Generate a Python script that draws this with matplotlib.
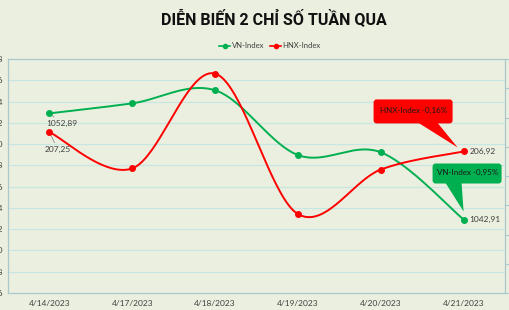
import numpy as np
import matplotlib
matplotlib.use("Agg")
import matplotlib.pyplot as plt
import matplotlib.transforms as mtransforms
from matplotlib.patches import Polygon, FancyBboxPatch
from matplotlib.lines import Line2D

# ---- data ----
dates = ["4/14/2023", "4/17/2023", "4/18/2023", "4/19/2023", "4/20/2023", "4/21/2023"]
vn_index = [1052.89, 1053.83, 1055.06, 1048.97, 1049.23, 1042.91]
hnx_index = [207.25, 206.63, 208.25, 205.85, 206.61, 206.92]
vn_ticks = [1036, 1038, 1040, 1042, 1044, 1046, 1048, 1050, 1052, 1054, 1056, 1058]
hnx_ticks = [204.5, 205.0, 205.5, 206.0, 206.5, 207.0, 207.5, 208.0, 208.5]
title = "DIỄN BIẾN 2 CHỈ SỐ TUẦN QUA"
vn_name = "VN-Index"
hnx_name = "HNX-Index"
vn_callout = "VN-Index -0,95%"
hnx_callout = "HNX-Index -0,16%"

BG = "#EBEFDF"
GRID = "#C6E6E4"
SPINE = "#A9C8CC"
GREEN = "#00B050"
RED = "#FF0000"
TXT = "#404040"
FONT = ["Lato", "DejaVu Sans"]

plt.rcParams["font.family"] = FONT


def smooth(xs, ys, n=40):
    xs = np.asarray(xs, float)
    ys = np.asarray(ys, float)
    px = np.concatenate([[xs[0]], xs, [xs[-1]]])
    py = np.concatenate([[ys[0]], ys, [ys[-1]]])
    ox, oy = [], []
    t = np.linspace(0, 1, n)
    for i in range(1, len(px) - 2):
        p0 = np.array([px[i], py[i]])
        p3 = np.array([px[i + 1], py[i + 1]])
        p1 = p0 + (np.array([px[i + 1], py[i + 1]]) - np.array([px[i - 1], py[i - 1]])) / 6
        p2 = p3 - (np.array([px[i + 2], py[i + 2]]) - np.array([px[i], py[i]])) / 6
        b = ((1 - t) ** 3)[:, None] * p0 + (3 * (1 - t) ** 2 * t)[:, None] * p1 \
            + (3 * (1 - t) * t ** 2)[:, None] * p2 + (t ** 3)[:, None] * p3
        ox.extend(b[:, 0]); oy.extend(b[:, 1])
    return np.array(ox), np.array(oy)


fig = plt.figure(figsize=(5.1, 3.1), dpi=100, facecolor=BG)
ax = fig.add_axes([8 / 510, 17 / 310, 497 / 510, 234 / 310])
ax.set_facecolor(BG)
ax2 = ax.twinx()

x = np.arange(len(dates))

# left axis (VN)
ax.set_ylim(vn_ticks[0], vn_ticks[-1])
ax.set_yticks(vn_ticks)
ax.set_yticklabels([str(v) for v in vn_ticks])
ax.tick_params(axis="y", length=0, pad=3.5, labelsize=6, labelcolor=TXT)
ax.grid(axis="y", color=GRID, linewidth=0.8)
ax.set_axisbelow(True)
ax.set_xlim(-0.5, len(dates) - 0.5)
ax.set_xticks(x)
ax.set_xticklabels(dates)
ax.tick_params(axis="x", length=0, pad=5, labelsize=6, labelcolor=TXT)

# right axis (HNX)
ax2.set_ylim(hnx_ticks[0], hnx_ticks[-1])
ax2.set_yticks(hnx_ticks)
ax2.set_yticklabels([f"{v:.1f}" for v in hnx_ticks])
ax2.tick_params(axis="y", length=4, color=SPINE, pad=10, labelsize=6, labelcolor=TXT)

for a in (ax, ax2):
    for s in a.spines.values():
        s.set_color(SPINE)
        s.set_linewidth(0.8)

# lines
sx, sy = smooth(x, vn_index)
ax.plot(sx, sy, color=GREEN, lw=1.4, zorder=3)
ax.plot(x, vn_index, "o", color=GREEN, ms=4, zorder=4)
hx, hy = smooth(x, hnx_index)
ax2.plot(hx, hy, color=RED, lw=1.4, zorder=3)
ax2.plot(x, hnx_index, "o", color=RED, ms=4, zorder=4)


def fmt(v):
    return f"{v:.2f}".replace(".", ",")

# data labels
ax.annotate(fmt(vn_index[0]), (x[0], vn_index[0]), xytext=(-3, -10), textcoords="offset pixels",
            ha="left", va="center", fontsize=6, color=TXT,
            arrowprops=dict(arrowstyle="-", color="#808080", lw=0.5, shrinkA=0, shrinkB=2))
ax2.annotate(fmt(hnx_index[0]), (x[0], hnx_index[0]), xytext=(-5, -17), textcoords="offset pixels",
             ha="left", va="center", fontsize=6, color=TXT,
             arrowprops=dict(arrowstyle="-", color="#808080", lw=0.5, shrinkA=0, shrinkB=3))
ax.annotate(fmt(vn_index[-1]), (x[-1], vn_index[-1]), xytext=(6, 0), textcoords="offset pixels",
            ha="left", va="center", fontsize=6, color=TXT)
ax2.annotate(fmt(hnx_index[-1]), (x[-1], hnx_index[-1]), xytext=(6, 0), textcoords="offset pixels",
             ha="left", va="center", fontsize=6, color=TXT)


def callout(axis, xd, yd, box, base, apex, color, text):
    trans = mtransforms.Affine2D() + mtransforms.ScaledTranslation(xd, yd, axis.transData)
    x0, x1, y0, y1 = box
    rect = FancyBboxPatch((x0, y0), x1 - x0, y1 - y0, boxstyle="round,pad=0,rounding_size=3",
                          facecolor=color, edgecolor="none", transform=trans, clip_on=False, zorder=6)
    fig.add_artist(rect)
    tri = Polygon([(base[0], y0 + 0.5), (base[1], y0 + 0.5), apex], closed=True, facecolor=color,
                  edgecolor="none", transform=trans, clip_on=False, zorder=6)
    fig.add_artist(tri)
    fig.text((x0 + x1) / 2, (y0 + y1) / 2 + 1, text, transform=trans, ha="center", va="center",
             fontsize=5.8, color="#1a1a1a", zorder=7)

callout(ax2, x[-1], hnx_index[-1], (-90, -11, 28, 52), (-45, -26), (-6, 4), RED, hnx_callout)
callout(ax, x[-1], vn_index[-1], (-31, 38, 36, 56), (-18, -2), (0, 8), GREEN, vn_callout)

# title & legend
fig.text(274 / 510, 1 - 19 / 310, title, ha="center", va="center", fontsize=11.5, fontweight="bold",
         color="#111111", family=["Roboto", "DejaVu Sans"])
handles = [Line2D([], [], color=GREEN, marker="o", ms=3, lw=1.2),
           Line2D([], [], color=RED, marker="o", ms=3, lw=1.2)]
fig.legend(handles, [vn_name, hnx_name], loc="center", bbox_to_anchor=(270 / 510, 1 - 46 / 310),
           ncol=2, frameon=False, fontsize=5.5, handlelength=1.4, columnspacing=0.8,
           handletextpad=0.2, labelcolor=TXT)

fig.savefig("out.png", dpi=100, facecolor=BG)
